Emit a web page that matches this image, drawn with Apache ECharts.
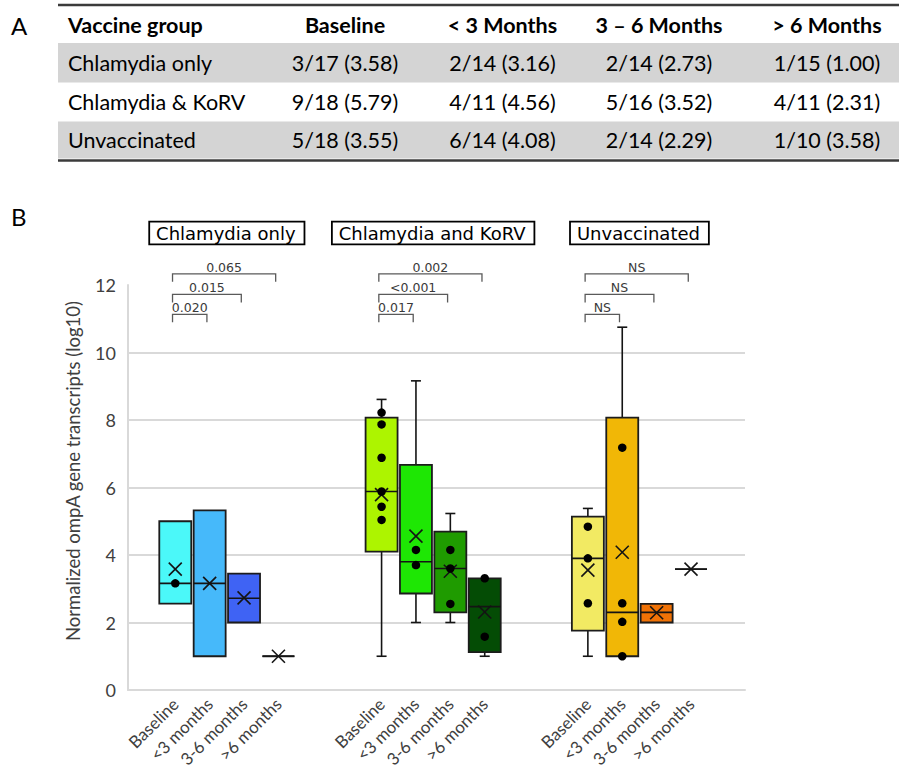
<!DOCTYPE html>
<html>
<head>
<meta charset="utf-8">
<script src="https://cdn.jsdelivr.net/npm/echarts@6/dist/echarts.min.js"></script>
<style>
  html, body { margin: 0; padding: 0; background: #ffffff; }
  #chart { width: 899px; height: 776px; }
</style>
</head>
<body>
<div id="chart"></div>
<script>
// ---- Panel A: summary table ----
const tableGroups = ['Chlamydia only', 'Chlamydia & KoRV', 'Unvaccinated'];
const tableHeaders = ['Vaccine group', 'Baseline', '< 3 Months', '3 – 6 Months', '> 6 Months'];
const positives = [[3, 2, 2, 1], [9, 4, 5, 4], [5, 6, 2, 1]];
const totals = [[17, 14, 14, 15], [18, 11, 16, 11], [18, 14, 14, 10]];
const means = [[3.58, 3.16, 2.73, 1.00], [5.79, 4.56, 3.52, 2.31], [3.55, 4.08, 2.29, 3.58]];

// ---- Panel B: box plots ----
const panelTitles = ['Chlamydia only', 'Chlamydia and KoRV', 'Unvaccinated'];
const periods = ['Baseline', '<3 months', '3-6 months', '>6 months'];
// [whisker low, Q1, median, Q3, whisker high] per group and period
const boxStats = [
  [[2.56, 2.56, 3.16, 5.00, 5.00], [1.00, 1.00, 3.16, 5.32, 5.32], [2.00, 2.00, 2.72, 3.45, 3.45], [1.00, 1.00, 1.00, 1.00, 1.00]],
  [[1.00, 4.10, 5.88, 8.07, 8.61], [2.00, 2.86, 3.80, 6.67, 9.16], [2.00, 2.30, 3.60, 4.69, 5.23], [1.00, 1.12, 2.47, 3.31, 3.31]],
  [[1.00, 1.76, 3.90, 5.14, 5.38], [1.00, 1.00, 2.30, 8.07, 10.75], [2.00, 2.00, 2.30, 2.55, 2.55], [3.58, 3.58, 3.58, 3.58, 3.58]]
];
// individual samples drawn inside the boxes
const innerPoints = [
  [[3.16], [], [], []],
  [[8.22, 7.87, 6.88, 5.88, 5.43, 5.04], [4.15, 3.70], [4.15, 3.60, 2.55], [3.31, 1.58]],
  [[4.84, 3.90, 2.57], [7.18, 2.57, 2.02, 1.00], [], []]
];
const pValues = [['0.020', '0.015', '0.065'], ['0.017', '<0.001', '0.002'], ['NS', 'NS', 'NS']];
const yTicks = [0, 2, 4, 6, 8, 10, 12];

// ---- styling / layout constants ----
const boxColors = [
  ['#4BF8F9', '#46B9FA', '#3F63F4'],
  ['#ADF400', '#1EE704', '#1F9B00', '#044C05'],
  ['#F2EA63', '#F1B706', '#F07206']
];
const groupStart = [0, 6, 12];          // x slot of each group's first box
const bracketLevels = [11.13, 11.72, 12.33];
const latin = 'Lato, "Liberation Sans", sans-serif';
const dejavu = '"DejaVu Sans", Verdana, sans-serif';
const ink = '#141414';

// flattened box records
const boxData = [];
const boxFill = [];
const dotData = [];
boxStats.forEach((grp, g) => {
  grp.forEach((s, p) => {
    const x = groupStart[g] + p;
    boxData.push([x, s[0], s[1], s[2], s[3], s[4], means[g][p]]);
    boxFill.push((boxColors[g] && boxColors[g][p]) || 'none');
    innerPoints[g][p].forEach(v => dotData.push([x, v]));
  });
});

const bracketData = [];
const bracketText = [];
pValues.forEach((row, g) => {
  row.forEach((txt, i) => {
    bracketData.push([groupStart[g], groupStart[g] + i + 1, bracketLevels[i]]);
    bracketText.push(txt);
  });
});

const titleData = panelTitles.map((t, g) => [groupStart[g] + 1.5]);

function renderBox(params, api) {
  const x = api.value(0);
  const lo = api.coord([x, api.value(1)]);
  const q1 = api.coord([x, api.value(2)]);
  const med = api.coord([x, api.value(3)]);
  const q3 = api.coord([x, api.value(4)]);
  const hi = api.coord([x, api.value(5)]);
  const mn = api.coord([x, api.value(6)]);
  const cx = lo[0];
  const w = api.size([1, 0])[0] * 0.93;
  const cap = 5;
  const ls = { stroke: ink, lineWidth: 1.6, fill: 'none' };
  const kids = [];
  if (hi[1] < q3[1] - 0.5) {
    kids.push({ type: 'line', shape: { x1: cx, y1: q3[1], x2: cx, y2: hi[1] }, style: ls });
    kids.push({ type: 'line', shape: { x1: cx - cap, y1: hi[1], x2: cx + cap, y2: hi[1] }, style: ls });
  }
  if (lo[1] > q1[1] + 0.5) {
    kids.push({ type: 'line', shape: { x1: cx, y1: q1[1], x2: cx, y2: lo[1] }, style: ls });
    kids.push({ type: 'line', shape: { x1: cx - cap, y1: lo[1], x2: cx + cap, y2: lo[1] }, style: ls });
  }
  kids.push({
    type: 'rect',
    shape: { x: cx - w / 2, y: q3[1], width: w, height: Math.max(q1[1] - q3[1], 0) },
    style: { fill: boxFill[params.dataIndex], stroke: '#1c1c1c', lineWidth: 1.8 }
  });
  kids.push({ type: 'line', shape: { x1: cx - w / 2, y1: med[1], x2: cx + w / 2, y2: med[1] }, style: ls });
  const r = 6.5;
  kids.push({ type: 'line', shape: { x1: cx - r, y1: mn[1] - r, x2: cx + r, y2: mn[1] + r }, style: ls });
  kids.push({ type: 'line', shape: { x1: cx - r, y1: mn[1] + r, x2: cx + r, y2: mn[1] - r }, style: ls });
  return { type: 'group', children: kids };
}

function renderBracket(params, api) {
  const shift = -0.08;
  const a = api.coord([api.value(0) + shift, api.value(2)]);
  const b = api.coord([api.value(1) + shift, api.value(2)]);
  const drop = 8;
  const ls = { stroke: '#5a5a5a', lineWidth: 1.3, fill: 'none' };
  return {
    type: 'group',
    children: [
      { type: 'polyline', shape: { points: [[a[0], a[1] + drop], [a[0], a[1]], [b[0], b[1]], [b[0], b[1] + drop]] }, style: ls },
      {
        type: 'text',
        style: {
          text: bracketText[params.dataIndex], x: (a[0] + b[0]) / 2, y: a[1],
          align: 'center', verticalAlign: 'bottom', fill: '#3a3a3a',
          font: '12.5px ' + dejavu
        }
      }
    ]
  };
}

function renderTitle(params, api) {
  const c = api.coord([api.value(0), 0]);
  return {
    type: 'text',
    style: {
      text: panelTitles[params.dataIndex], x: c[0], y: 233,
      align: 'center', verticalAlign: 'middle', fill: '#000',
      font: '18px ' + dejavu,
      backgroundColor: '#fff', borderColor: '#000', borderWidth: 1.8,
      padding: [2, 8, 1, 6]
    }
  };
}

// ---- table graphics ----
const colX = [68, 345, 502.5, 659, 827];
const rowY = [63, 101.5, 140];
const tableEls = [];
tableEls.push({ type: 'rect', shape: { x: 58, y: 43, width: 841, height: 39.5 }, style: { fill: '#D4D4D4' } });
tableEls.push({ type: 'rect', shape: { x: 58, y: 121.5, width: 841, height: 37 }, style: { fill: '#D4D4D4' } });
tableEls.push({ type: 'line', shape: { x1: 58, y1: 5, x2: 899, y2: 5 }, style: { stroke: '#3b3b3b', lineWidth: 2.5 } });
tableEls.push({ type: 'line', shape: { x1: 58, y1: 160.5, x2: 899, y2: 160.5 }, style: { stroke: '#3b3b3b', lineWidth: 2.5 } });
tableHeaders.forEach((h, i) => {
  tableEls.push({
    type: 'text',
    style: {
      text: h, x: colX[i], y: 25, align: i === 0 ? 'left' : 'center', verticalAlign: 'middle',
      fill: '#000', font: 'bold 21.5px ' + latin
    }
  });
});
tableGroups.forEach((name, r) => {
  tableEls.push({
    type: 'text',
    style: { text: name, x: colX[0], y: rowY[r], align: 'left', verticalAlign: 'middle', fill: '#000', font: '21.5px ' + latin }
  });
  positives[r].forEach((pos, c) => {
    tableEls.push({
      type: 'text',
      style: {
        text: pos + '/' + totals[r][c] + ' (' + means[r][c].toFixed(2) + ')',
        x: colX[c + 1], y: rowY[r], align: 'center', verticalAlign: 'middle',
        fill: '#000', font: '21.5px ' + latin
      }
    });
  });
});
tableEls.push({ type: 'text', style: { text: 'A', x: 11, y: 25, verticalAlign: 'middle', fill: '#000', font: '24px ' + latin } });
tableEls.push({ type: 'text', style: { text: 'B', x: 11, y: 216, verticalAlign: 'middle', fill: '#000', font: '24px ' + latin } });

const chart = echarts.init(document.getElementById('chart'), null, { renderer: 'svg' });
chart.setOption({
  animation: false,
  backgroundColor: '#ffffff',
  graphic: { elements: tableEls },
  grid: { left: 128, right: 154, top: 285, bottom: 86, containLabel: false },
  xAxis: {
    type: 'value',
    min: -1.375,
    max: 16.57,
    splitLine: { show: false },
    axisTick: { show: false },
    axisLine: { show: true, onZero: false, lineStyle: { color: '#D9D9D9', width: 2 } },
    axisLabel: {
      customValues: [0, 1, 2, 3, 6, 7, 8, 9, 12, 13, 14, 15],
      formatter: v => periods[Math.round(v) % 6] || '',
      rotate: 45,
      margin: 11,
      color: '#404040',
      fontSize: 17,
      fontFamily: latin
    }
  },
  yAxis: {
    type: 'value',
    min: 0,
    max: 12,
    interval: 2,
    axisLine: { show: true, onZero: false, lineStyle: { color: '#D9D9D9', width: 2 } },
    axisTick: { show: false },
    splitLine: { show: true, showMaxLine: false, lineStyle: { color: '#D9D9D9', width: 2 } },
    axisLabel: {
      customValues: yTicks,
      margin: 12, color: '#404040', fontSize: 18, fontFamily: latin
    },
    name: 'Normalized ompA gene transcripts (log10)',
    nameLocation: 'middle',
    nameGap: 46,
    nameTextStyle: { color: '#404040', fontSize: 18.5, fontFamily: latin, padding: [0, 0, 0, 33] }
  },
  series: [
    { type: 'custom', renderItem: renderBox, data: boxData, clip: false, z: 2 },
    {
      type: 'scatter', data: dotData, symbol: 'circle', symbolSize: 8.5,
      itemStyle: { color: '#000', opacity: 1 }, z: 3, silent: true
    },
    { type: 'custom', renderItem: renderBracket, data: bracketData, clip: false, z: 4 },
    { type: 'custom', renderItem: renderTitle, data: titleData, clip: false, z: 4 }
  ]
});
</script>
</body>
</html>
